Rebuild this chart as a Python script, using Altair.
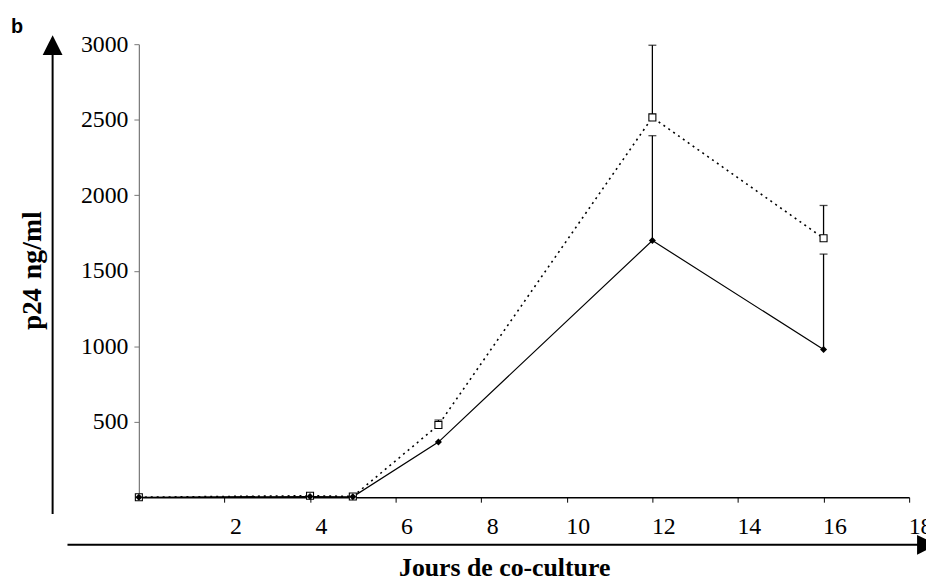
import altair as alt
import pandas as pd

# ---- data ----
days = [0, 4, 5, 7, 12, 16]
open_vals = [0, 10, 5, 478, 2515, 1715]
open_err = [0, 0, 0, 33, 478, 217]
filled_vals = [0, 5, 3, 365, 1700, 978]
filled_err = [0, 0, 0, 0, 694, 632]
x_ticks = [2, 4, 6, 8, 10, 12, 14, 16, 18]
y_ticks = [500, 1000, 1500, 2000, 2500, 3000]

open_df = pd.DataFrame({"day": days, "val": open_vals, "err": open_err})
open_df["upper"] = open_df["val"] + open_df["err"]
filled_df = pd.DataFrame({"day": days, "val": filled_vals, "err": filled_err})
filled_df["upper"] = filled_df["val"] + filled_df["err"]

W, H = 777, 457
SERIF = "Liberation Serif"

xs = alt.Scale(domain=[0, 18], nice=False, zero=False)
ys = alt.Scale(domain=[0, 3000], nice=False)

x_axis = alt.Axis(values=x_ticks, title=None, format="d")
y_axis = alt.Axis(values=y_ticks, title=None, format="d")

X = alt.X("day:Q", scale=xs, axis=x_axis)
Y = alt.Y("val:Q", scale=ys, axis=y_axis)

open_line = alt.Chart(open_df).mark_line(color="black", strokeWidth=1.6, strokeDash=[2, 4]).encode(x=X, y=Y)
filled_line = alt.Chart(filled_df).mark_line(color="black", strokeWidth=1.2).encode(
    x=X, y=Y)

def err_layers(df):
    base = alt.Chart(df).transform_filter("datum.err > 0")
    rule = base.mark_rule(color="black", strokeWidth=1.3).encode(
        x=X, y=Y, y2="upper:Q")
    cap = base.mark_tick(color="black", orient="horizontal", size=8, thickness=1.3).encode(
        x=X, y=alt.Y("upper:Q", scale=ys, axis=y_axis))
    return rule + cap

open_pts = alt.Chart(open_df).mark_point(shape="square", filled=True, fill="white", stroke="black",
                                         strokeWidth=1.1, size=50, opacity=1).encode(x=X, y=Y)
filled_pts = alt.Chart(filled_df).mark_point(shape="diamond", filled=True, color="black",
                                             size=50, opacity=1).encode(x=X, y=Y)

# ---- decorations (page coords minus plot origin 140,42) ----
deco = pd.DataFrame({"k": [0]})
y_arrow_line = alt.Chart(deco).mark_rule(color="black", strokeWidth=2).encode(
    x=alt.value(-87), y=alt.value(474), y2=alt.value(8))
y_arrow_head = alt.Chart(deco).mark_point(shape="M-1,1L0,-1L1,1Z", filled=True, color="black",
                                          size=400, opacity=1).encode(
    x=alt.value(-87), y=alt.value(1))
x_arrow_line = alt.Chart(deco).mark_rule(color="black", strokeWidth=2).encode(
    x=alt.value(-72), x2=alt.value(786), y=alt.value(505))
x_arrow_head = alt.Chart(deco).mark_point(shape="M-1,-1L1,0L-1,1Z", filled=True, color="black",
                                          size=400, opacity=1).encode(
    x=alt.value(795), y=alt.value(505))

b_label = alt.Chart(deco).mark_text(text="b", font="Liberation Sans", fontWeight="bold", fontSize=20,
                                    align="left", baseline="alphabetic", color="black").encode(
    x=alt.value(-129), y=alt.value(-11))
x_title = alt.Chart(deco).mark_text(text="Jours de co-culture", font=SERIF, fontWeight="bold",
                                    fontSize=26, align="center", baseline="alphabetic",
                                    color="black").encode(x=alt.value(369), y=alt.value(536))
y_title1 = alt.Chart(deco).mark_text(text="p24", font=SERIF, fontWeight="bold", fontSize=27,
                                     align="left", baseline="alphabetic", angle=270,
                                     color="black").encode(x=alt.value(-99), y=alt.value(288))
y_title2 = alt.Chart(deco).mark_text(text="ng/ml", font=SERIF, fontWeight="bold", fontSize=28,
                                     align="left", baseline="alphabetic", angle=270,
                                     color="black").encode(x=alt.value(-99), y=alt.value(237))

chart = alt.layer(
    open_line, filled_line, err_layers(open_df), err_layers(filled_df), open_pts, filled_pts,
    y_arrow_line, y_arrow_head, x_arrow_line, x_arrow_head, b_label, x_title, y_title1, y_title2,
).properties(
    width=W, height=H,
    autosize=alt.AutoSizeParams(type="none"),
    padding={"left": 132, "top": 34, "right": 17, "bottom": 82},
    background="white",
).configure_view(
    stroke=None
).configure_axis(
    grid=False, labelFont=SERIF, labelFontSize=24, labelColor="black",
    labelFlush=False, labelBound=False, title=None, format="d",
).configure_axisX(
    labelOffset=11, labelPadding=13, tickSize=5, tickColor="black",
    domainColor="black", domainWidth=1.5,
).configure_axisY(
    labelPadding=6, tickSize=5, tickColor="#777777",
    domainColor="#777777", domainWidth=1.2,
)

chart.save("out.html", embed_options={"renderer": "svg", "actions": False})
